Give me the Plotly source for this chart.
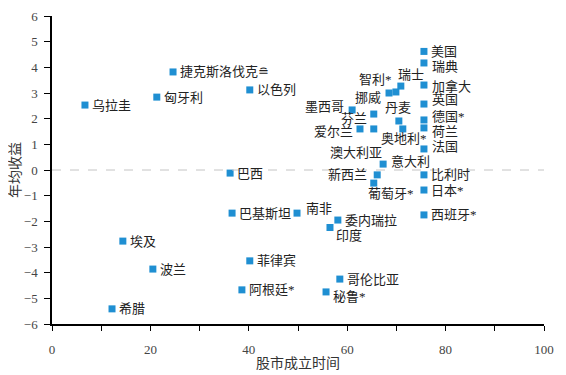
import plotly.graph_objects as go

countries = ["美国", "瑞典", "加拿大", "英国", "德国*", "荷兰", "法国", "比利时", "日本*", "西班牙*",
             "瑞士", "智利*", "挪威", "墨西哥", "芬兰", "丹麦", "爱尔兰", "奥地利*", "澳大利亚", "意大利",
             "新西兰", "葡萄牙*", "委内瑞拉", "印度", "哥伦比亚", "秘鲁*", "南非", "巴基斯坦", "巴西",
             "以色列", "捷克斯洛伐克≘", "匈牙利", "乌拉圭", "埃及", "波兰", "希腊", "菲律宾", "阿根廷*"]
years = [75.6, 75.6, 75.6, 75.6, 75.6, 75.6, 75.6, 75.6, 75.6, 75.6,
         70.9, 69.9, 68.5, 61.0, 65.4, 70.5, 62.6, 71.3, 65.4, 67.3,
         66.1, 65.4, 58.1, 56.5, 58.5, 55.7, 49.8, 36.6, 36.2,
         40.2, 24.6, 21.3, 6.7, 14.4, 20.5, 12.2, 40.2, 38.6]
returns = [4.62, 4.17, 3.31, 2.57, 1.95, 1.64, 0.82, -0.19, -0.78, -1.75,
           3.27, 3.04, 3.00, 2.34, 2.18, 1.91, 1.60, 1.60, 1.60, 0.23,
           -0.19, -0.51, -1.95, -2.24, -4.25, -4.75, -1.68, -1.68, -0.12,
           3.12, 3.82, 2.84, 2.53, -2.77, -3.86, -5.41, -3.54, -4.67]

# label placement: (xanchor, xshift px, yshift px)
label_style = {
    "瑞典": ("left", 7, -4), "加拿大": ("left", 7, -1), "英国": ("left", 7, 5),
    "德国*": ("left", 7, 3), "荷兰": ("left", 7, -4), "法国": ("left", 7, 2),
    "瑞士": ("left", -4, 12), "智利*": ("right", -3, 12), "挪威": ("right", -7, -4),
    "墨西哥": ("right", -7, 3), "芬兰": ("right", -6, -4), "丹麦": ("center", -1, 13),
    "爱尔兰": ("right", -6, -3), "奥地利*": ("center", 1, -10), "澳大利亚": ("center", -18, -24),
    "意大利": ("left", 7, 3), "新西兰": ("right", -9, 0), "葡萄牙*": ("left", -7, -10),
    "南非": ("left", 8, 5), "印度": ("left", 5, -8), "秘鲁*": ("left", 6, -5),
}
default_style = ("left", 6, 0)

FONT = "Liberation Serif, Noto Sans CJK SC, serif"

fig = go.Figure()
fig.add_hline(y=0, line=dict(color="#c4c4c4", width=1, dash="dash"))
fig.add_trace(go.Scatter(
    x=years, y=returns, mode="markers",
    marker=dict(symbol="square", size=7, color="#1f8fd2"),
    cliponaxis=False, hoverinfo="skip",
))

for c, xv, yv in zip(countries, years, returns):
    anchor, dx, dy = label_style.get(c, default_style)
    fig.add_annotation(x=xv, y=yv, xref="x", yref="y", text=c, showarrow=False,
                       xanchor=anchor, yanchor="middle", xshift=dx, yshift=dy, borderpad=0,
                       font=dict(family=FONT, size=13, color="#222222"))

fig.update_layout(
    width=558, height=367, margin=dict(l=44, r=22, t=8, b=51),
    paper_bgcolor="white", plot_bgcolor="white", showlegend=False,
    font=dict(family=FONT, size=12, color="#333333"),
)
fig.update_xaxes(range=[0, 100], dtick=20, tick0=0, showgrid=False, zeroline=False,
                 automargin=False,
                 showline=True, linecolor="black", linewidth=1.5,
                 ticks="outside", ticklen=5, tickcolor="black", ticklabelstandoff=8,
                 minor=dict(dtick=10, ticks="outside", ticklen=5, tickcolor="black"),
                 tickfont=dict(size=13, color="#444444"),
                 title=dict(text="股市成立时间", font=dict(size=14, color="#333333"), standoff=2))
fig.update_yaxes(range=[-6, 6], dtick=1, showgrid=False, zeroline=False,
                 automargin=False,
                 showline=True, linecolor="black", linewidth=1.5,
                 ticks="outside", ticklen=6, tickcolor="black", ticklabelstandoff=4,
                 tickfont=dict(size=13, color="#444444"),
                 title=dict(text="年均收益", font=dict(size=14, color="#333333"), standoff=6))

fig.write_html("out.html")
